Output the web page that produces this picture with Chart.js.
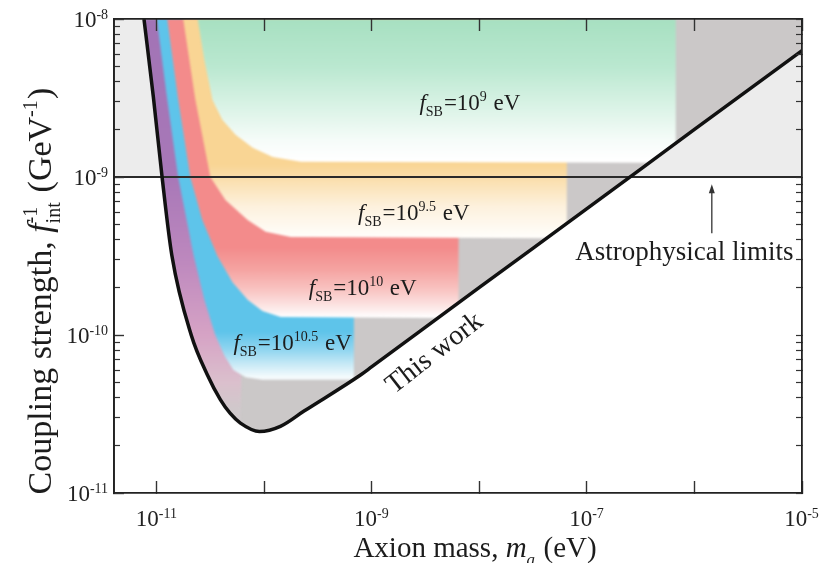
<!DOCTYPE html>
<html><head><meta charset="utf-8">
<script src="https://cdn.jsdelivr.net/npm/chart.js"></script>
<style>html,body{margin:0;padding:0;background:#fff;}canvas{display:block;}</style>
</head><body>
<canvas id="c" width="829" height="563"></canvas>
<script>
// ---------------- data ----------------
// Axis ticks (labels are 10^exponent; empty = unlabeled tick)
const xTickValues = [1e-11, 1e-10, 1e-9, 1e-8, 1e-7, 1e-6, 1e-5];
const xTickExponents = ['-11', '', '-9', '', '-7', '', '-5'];
const yTickValues = [1e-11, 1e-10, 1e-9, 1e-8];
const yTickExponents = ['-11', '-10', '-9', '-8'];
const yMinorTickValues = [2e-11, 3e-11, 4e-11, 5e-11, 6e-11, 7e-11, 8e-11, 9e-11,
  2e-10, 3e-10, 4e-10, 5e-10, 6e-10, 7e-10, 8e-10, 9e-10,
  2e-9, 3e-9, 4e-9, 5e-9, 6e-9, 7e-9, 8e-9, 9e-9];

// "This work" boundary: axion mass (eV) vs coupling (GeV^-1)
const workMass     = [7.6e-12, 9.3e-12, 1.12e-11, 1.38e-11, 2.09e-11, 2.95e-11, 3.9e-11, 4.8e-11, 6.0e-11, 9.0e-11, 1.41e-10, 2.34e-10, 7.9e-10, 1e-9, 1e-8, 1e-7, 1e-6, 1e-5];
const workCoupling = [1.0e-8, 3.2e-9, 1.0e-9, 3.2e-10, 1.0e-10, 5.6e-11, 3.9e-11, 3.2e-11, 2.77e-11, 2.45e-11, 2.64e-11, 3.3e-11, 5.6e-11, 6.3e-11, 2.0e-10, 6.3e-10, 2.0e-9, 6.3e-9];

// Astrophysical limit (coupling > 1e-9 GeV^-1)
const astroMass = [4e-12, 1e-5];
const astroCoupling = [1e-9, 1e-9];

// f_SB regions (boundary traced from the top of the left wall, along the floor, up the cut-off)
const purpleCutMass = 6.0e-11;
const blueMass       = [1.0e-11, 1.25e-11, 1.58e-11, 2.2e-11, 2.77e-11, 3.5e-11, 4.26e-11, 5.16e-11, 6.7e-11, 9.6e-11, 6.8e-10, 6.8e-10];
const blueCoupling   = [1e-8, 3.1e-9, 1e-9, 3.2e-10, 1.67e-10, 1e-10, 7.4e-11, 6.0e-11, 5.4e-11, 5.2e-11, 5.2e-11, 1e-8];
const redMass        = [1.25e-11, 1.58e-11, 2.05e-11, 2.65e-11, 3.66e-11, 5.06e-11, 7.0e-11, 9.6e-11, 1.42e-10, 4.1e-9, 6.4e-9, 6.4e-9];
const redCoupling    = [1e-8, 3.1e-9, 1e-9, 5.35e-10, 3.16e-10, 2.16e-10, 1.67e-10, 1.42e-10, 1.3e-10, 1.28e-10, 1.6e-10, 1e-8];
const yellowMass     = [1.76e-11, 2.28e-11, 3.15e-11, 4.35e-11, 7.0e-11, 1.03e-10, 1.76e-10, 4.25e-8, 6.5e-8, 6.5e-8];
const yellowCoupling = [1e-8, 3.1e-9, 1e-9, 7.15e-10, 5.35e-10, 4.5e-10, 4.17e-10, 4.1e-10, 5.1e-10, 1e-8];
const greenMass      = [2.4e-11, 2.77e-11, 3.3e-11, 4.07e-11, 5.4e-11, 7.8e-11, 1.2e-10, 2.19e-10, 3.8e-7, 6.7e-7, 6.7e-7];
const greenCoupling  = [1e-8, 5.5e-9, 3.07e-9, 2.3e-9, 1.85e-9, 1.53e-9, 1.34e-9, 1.25e-9, 1.23e-9, 1.63e-9, 1e-8];

// ---------------- styles ----------------
const FONT = '"Liberation Serif", "Times New Roman", Times, serif';
const X_MIN = 4e-12, X_MAX = 1e-5, Y_MIN = 1e-11, Y_MAX = 1e-8;

const pts = (xs, ys) => xs.map((x, i) => ({x, y: ys[i]}));

function vGradient(stops) {
  return (c) => {
    const chart = c.chart, ys = chart.scales && chart.scales.y;
    if (!chart.chartArea || !ys) return stops[0][1];
    const y0 = ys.getPixelForValue(stops[0][0]);
    const y1 = ys.getPixelForValue(stops[stops.length - 1][0]);
    const g = chart.ctx.createLinearGradient(0, y0, 0, y1);
    for (const [v, col] of stops) {
      const t = (ys.getPixelForValue(v) - y0) / (y1 - y0);
      g.addColorStop(Math.min(1, Math.max(0, t)), col);
    }
    return g;
  };
}

const gradPurple = vGradient([[1e-8, '#a274b6'], [1e-9, '#a878b8'], [3e-10, '#bd88be'], [1e-10, '#d6a3c5'], [5e-11, '#dbc0cd'], [3.3e-11, '#cfc9cb']]);
const gradBlue   = vGradient([[1.05e-10, '#5ec4ea'], [8e-11, '#92d6f0'], [6.5e-11, '#c9eaf6'], [5.4e-11, '#f5fbfd']]);
const gradRed    = vGradient([[3.6e-10, '#f38b8b'], [2.6e-10, '#f5a3a1'], [1.9e-10, '#f9c6c4'], [1.45e-10, '#fdeceb'], [1.3e-10, '#ffffff']]);
const gradYellow = vGradient([[1.2e-9, '#f9d594'], [9e-10, '#fbe2b6'], [6.5e-10, '#fdf1dd'], [4.3e-10, '#fffdf9']]);
const gradGreen  = vGradient([[1e-8, '#a7e0c1'], [5e-9, '#bae8d0'], [2.8e-9, '#daf3e6'], [1.7e-9, '#f6fcf9'], [1.3e-9, '#ffffff']]);

function region(label, data, bg, order, tension) {
  return {label, data, order, fill: 'shape', backgroundColor: bg, borderWidth: 0,
          pointRadius: 0, tension: tension || 0, showLine: true, soft: true};
}

const workPts = pts(workMass, workCoupling);
const purplePts = workPts.filter(p => p.x <= purpleCutMass).concat([{x: purpleCutMass, y: Y_MAX}]);

const datasets = [
  {label: 'Astrophysical limits (area)', data: pts(astroMass, astroCoupling), order: 20, fill: 'end',
   backgroundColor: '#ececec', borderWidth: 0, pointRadius: 0, soft: true},
  {label: 'This work (area)', data: workPts, order: 19, fill: 'end', backgroundColor: '#cbc8c8',
   borderWidth: 0, pointRadius: 0, cubicInterpolationMode: 'monotone', soft: true},
  region('f_SB = 10^11 eV', purplePts, gradPurple, 18, 0.3),
  region('f_SB = 10^10.5 eV', pts(blueMass, blueCoupling), gradBlue, 17),
  region('f_SB = 10^10 eV', pts(redMass, redCoupling), gradRed, 16),
  region('f_SB = 10^9.5 eV', pts(yellowMass, yellowCoupling), gradYellow, 15),
  region('f_SB = 10^9 eV', pts(greenMass, greenCoupling), gradGreen, 14),
  {label: 'Astrophysical limits', data: pts(astroMass, astroCoupling), order: 2, fill: false,
   borderColor: '#2a2a2a', borderWidth: 2, pointRadius: 0},
  {label: 'This work', data: workPts, order: 1, fill: false, borderColor: '#111',
   borderWidth: 3.5, pointRadius: 0, cubicInterpolationMode: 'monotone'},
];

// ---------------- text annotations ----------------
const fsb = (e) => [{t: 'f', i: 1}, {sub: 'SB'}, {t: '=10'}, {sup: e}, {t: ' eV'}];
const annotations = [
  {segs: fsb('9'),    m: 2.77e-9, f: 2.65e-9, size: 23},
  {segs: fsb('9.5'),  m: 7.45e-10, f: 5.35e-10, size: 23},
  {segs: fsb('10'),   m: 2.59e-10, f: 1.79e-10, size: 23},
  {segs: fsb('10.5'), m: 5.16e-11, f: 8.04e-11, size: 23},
  {segs: [{t: 'Astrophysical limits'}], m: 7.78e-8, f: 2.99e-10, size: 27},
  {segs: [{t: 'This work'}], m: 3.74e-9, f: 7.8e-11, size: 28, rot: -38, align: 'center', middle: true},
];
const arrow = {m: 1.45e-6, from: 4.4e-10, to: 9.0e-10};
const xTitle = [{t: 'Axion mass, '}, {t: 'm', i: 1}, {sub: 'a', i: 1}, {t: ' (eV)'}];
const yTitle = [{t: 'Coupling strength, '}, {t: 'f', i: 1}, {sub: 'int', sup: '-1'}, {t: ' (GeV'}, {sup: '-1'}, {t: ')'}];

function drawRich(ctx, segs, x, y, size, o) {
  o = o || {};
  ctx.save();
  ctx.translate(x, y);
  if (o.rot) ctx.rotate(o.rot * Math.PI / 180);
  const parts = []; let total = 0;
  for (const s of segs) {
    const small = s.sub !== undefined || s.sup !== undefined;
    const sz = small ? Math.round(size * 0.6) : size;
    const font = (s.i ? 'italic ' : '') + sz + 'px ' + FONT;
    ctx.font = font;
    let w;
    if (s.t !== undefined) w = ctx.measureText(s.t).width;
    else w = Math.max(s.sub ? ctx.measureText(s.sub).width : 0, s.sup ? ctx.measureText(s.sup).width : 0) + size * 0.04;
    parts.push({s, font, w}); total += w;
  }
  let cx = o.align === 'center' ? -total / 2 : (o.align === 'right' ? -total : 0);
  const by = o.middle ? size * 0.33 : 0;
  ctx.fillStyle = o.color || '#1c1c1c';
  ctx.textAlign = 'left'; ctx.textBaseline = 'alphabetic';
  for (const p of parts) {
    ctx.font = p.font;
    if (p.s.t !== undefined) ctx.fillText(p.s.t, cx, by);
    if (p.s.sub !== undefined) ctx.fillText(p.s.sub, cx, by + size * 0.26);
    if (p.s.sup !== undefined) ctx.fillText(p.s.sup, cx, by - size * (o.supRaise || 0.4));
    cx += p.w;
  }
  ctx.restore();
}

// soften the filled regions a little, like the printed figure
const softPlugin = {
  id: 'softFill',
  beforeDatasetsDraw(chart) { chart.ctx.filter = 'blur(1.2px)'; },
  afterDatasetDraw(chart, args) {
    const ds = chart.data.datasets[args.index];
    if (ds && !ds.soft) chart.ctx.filter = 'none';
    if (ds && ds.order === 14) chart.ctx.filter = 'none';
  },
  afterDatasetsDraw(chart) { chart.ctx.filter = 'none'; }
};

const textPlugin = {
  id: 'richText',
  afterDraw(chart) {
    const ctx = chart.ctx, xs = chart.scales.x, ys = chart.scales.y;
    ctx.filter = 'none';
    // tick labels, placed by the scales
    xs.ticks.forEach((t, i) => {
      if (!xTickExponents[i]) return;
      drawRich(ctx, [{t: '10'}, {sup: xTickExponents[i]}], xs.getPixelForValue(t.value), 526, 23, {align: 'center', color: '#222', supRaise: 0.36});
    });
    ys.ticks.forEach((t, i) => {
      drawRich(ctx, [{t: '10'}, {sup: yTickExponents[i]}], 109, ys.getPixelForValue(t.value) + 8, 23, {align: 'right', color: '#222', supRaise: 0.36});
    });
    for (const a of annotations) {
      drawRich(ctx, a.segs, xs.getPixelForValue(a.m), ys.getPixelForValue(a.f), a.size,
               {rot: a.rot, align: a.align, middle: a.middle});
    }
    // arrow
    const ax = xs.getPixelForValue(arrow.m);
    const ay0 = ys.getPixelForValue(arrow.from), ay1 = ys.getPixelForValue(arrow.to);
    ctx.save();
    ctx.strokeStyle = '#333'; ctx.fillStyle = '#333'; ctx.lineWidth = 1.3;
    ctx.beginPath(); ctx.moveTo(ax, ay0); ctx.lineTo(ax, ay1 + 6); ctx.stroke();
    ctx.beginPath(); ctx.moveTo(ax, ay1); ctx.lineTo(ax - 3, ay1 + 9); ctx.lineTo(ax + 3, ay1 + 9); ctx.closePath(); ctx.fill();
    ctx.restore();
    // axis titles
    const ca = chart.chartArea;
    drawRich(ctx, xTitle, (ca.left + ca.right) / 2 + 17, 557, 29, {align: 'center'});
    drawRich(ctx, yTitle, 51, (ca.top + ca.bottom) / 2 + 35, 34, {align: 'center', rot: -90});
  }
};

function tickAxis(extra) {
  return Object.assign({
    type: 'logarithmic',
    grid: {drawOnChartArea: false, drawTicks: true, tickLength: -12, tickColor: '#333', tickWidth: 1.4, z: 1},
    border: {display: true, color: '#222', width: 1.8, z: 1},
    ticks: {display: false},
  }, extra);
}

new Chart(document.getElementById('c'), {
  type: 'line',
  data: {datasets},
  options: {
    responsive: false, animation: false, devicePixelRatio: 1, events: [],
    layout: {autoPadding: false, padding: {top: 19, right: 27, left: 0, bottom: 0}},
    plugins: {legend: {display: false}, tooltip: {enabled: false}},
    scales: {
      x: tickAxis({position: 'bottom', min: X_MIN, max: X_MAX,
        afterBuildTicks: s => { s.ticks = xTickValues.map(v => ({value: v})); },
        afterFit: s => { s.height = 70; }}),
      x2: tickAxis({position: 'top', min: X_MIN, max: X_MAX,
        afterBuildTicks: s => { s.ticks = xTickValues.map(v => ({value: v})); },
        afterFit: s => { s.height = 0; }}),
      y: tickAxis({position: 'left', min: Y_MIN, max: Y_MAX, weight: 1,
        afterBuildTicks: s => { s.ticks = yTickValues.map(v => ({value: v})); },
        afterFit: s => { s.width = 114; },
        grid: {drawOnChartArea: false, drawTicks: true, tickLength: -10, tickColor: '#333', tickWidth: 1.4, z: 1}}),
      yMinor: tickAxis({position: 'left', min: Y_MIN, max: Y_MAX, weight: 0,
        afterBuildTicks: s => { s.ticks = yMinorTickValues.map(v => ({value: v})); },
        afterFit: s => { s.width = 0; },
        grid: {drawOnChartArea: false, drawTicks: true, tickLength: -6, tickColor: '#333', tickWidth: 1.2, z: 1}}),
      y2: tickAxis({position: 'right', min: Y_MIN, max: Y_MAX,
        afterBuildTicks: s => { s.ticks = yTickValues.concat(yMinorTickValues).map(v => ({value: v})); },
        afterFit: s => { s.width = 0; },
        grid: {drawOnChartArea: false, drawTicks: true, tickLength: -6, tickColor: '#333', tickWidth: 1.2, z: 1}}),
    }
  },
  plugins: [softPlugin, textPlugin]
});
</script>
</body></html>
